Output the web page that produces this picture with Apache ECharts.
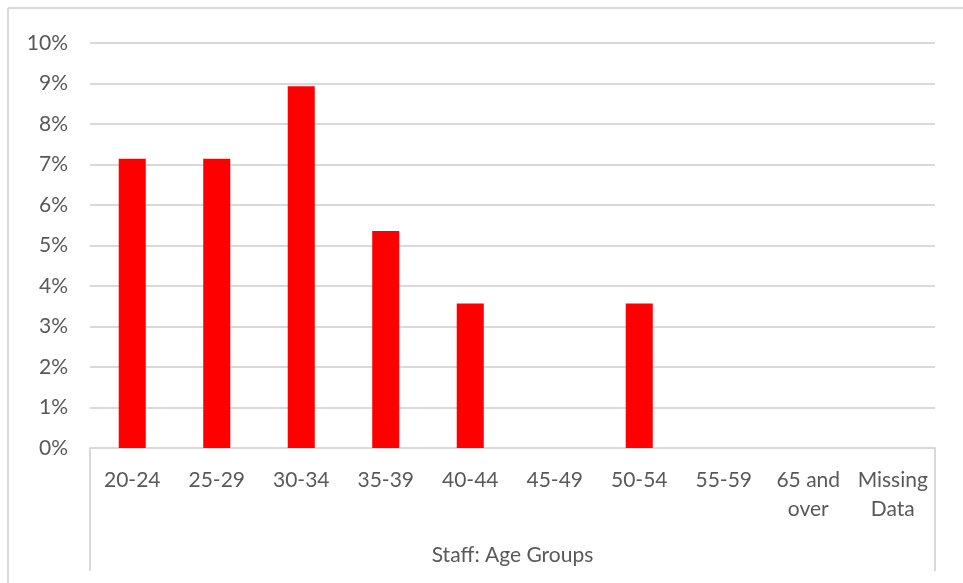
<!DOCTYPE html>
<html>
<head>
<meta charset="utf-8">
<script src="https://cdn.jsdelivr.net/npm/echarts@6/dist/echarts.min.js"></script>
<style>
  html, body { margin: 0; padding: 0; background: #fff; }
  #main { width: 963px; height: 583px; }
</style>
</head>
<body>
<div id="main"></div>
<script>
var categories = ['20-24', '25-29', '30-34', '35-39', '40-44', '45-49', '50-54', '55-59', '65 and\nover', 'Missing\nData'];
var shares = [7.14, 7.14, 8.93, 5.36, 3.57, 0, 3.57, 0, 0, 0];
var axisTitle = 'Staff: Age Groups';

var textColor = '#595959';
var lineColor = '#d9d9d9';
var font = 'Lato, "Open Sans", sans-serif';

var chart = echarts.init(document.getElementById('main'));
var option = {
  backgroundColor: '#fff',
  animation: false,
  grid: {
    left: 90,
    right: 28,
    top: 43,
    bottom: 135
  },
  xAxis: {
    type: 'category',
    data: categories,
    name: axisTitle,
    nameLocation: 'middle',
    nameGap: 97,
    nameTextStyle: { color: textColor, fontSize: 21, fontFamily: font },
    axisLine: { lineStyle: { color: lineColor, width: 2 } },
    axisTick: { show: false },
    axisLabel: {
      interval: 0,
      margin: 18,
      color: textColor,
      fontSize: 21,
      lineHeight: 29,
      fontFamily: font
    }
  },
  yAxis: {
    type: 'value',
    min: 0,
    max: 10,
    interval: 1,
    axisLine: { show: false },
    axisTick: { show: false },
    axisLabel: {
      margin: 22,
      color: textColor,
      fontSize: 21,
      fontFamily: font,
      formatter: '{value}%'
    },
    splitLine: { lineStyle: { color: lineColor, width: 2 } }
  },
  series: [
    {
      type: 'bar',
      data: shares,
      barWidth: '32%',
      itemStyle: { color: '#ff0000' }
    }
  ],
  graphic: [
    // outer chart frame (top and left edges visible)
    { type: 'line', shape: { x1: 8, y1: 8, x2: 963, y2: 8 }, style: { stroke: lineColor, lineWidth: 2 } },
    { type: 'line', shape: { x1: 8, y1: 8, x2: 8, y2: 583 }, style: { stroke: lineColor, lineWidth: 2 } },
    // category axis group box sides
    { type: 'line', shape: { x1: 90, y1: 448, x2: 90, y2: 571 }, style: { stroke: lineColor, lineWidth: 2 } },
    { type: 'line', shape: { x1: 935, y1: 448, x2: 935, y2: 571 }, style: { stroke: lineColor, lineWidth: 2 } }
  ]
};
chart.setOption(option);
</script>
</body>
</html>
